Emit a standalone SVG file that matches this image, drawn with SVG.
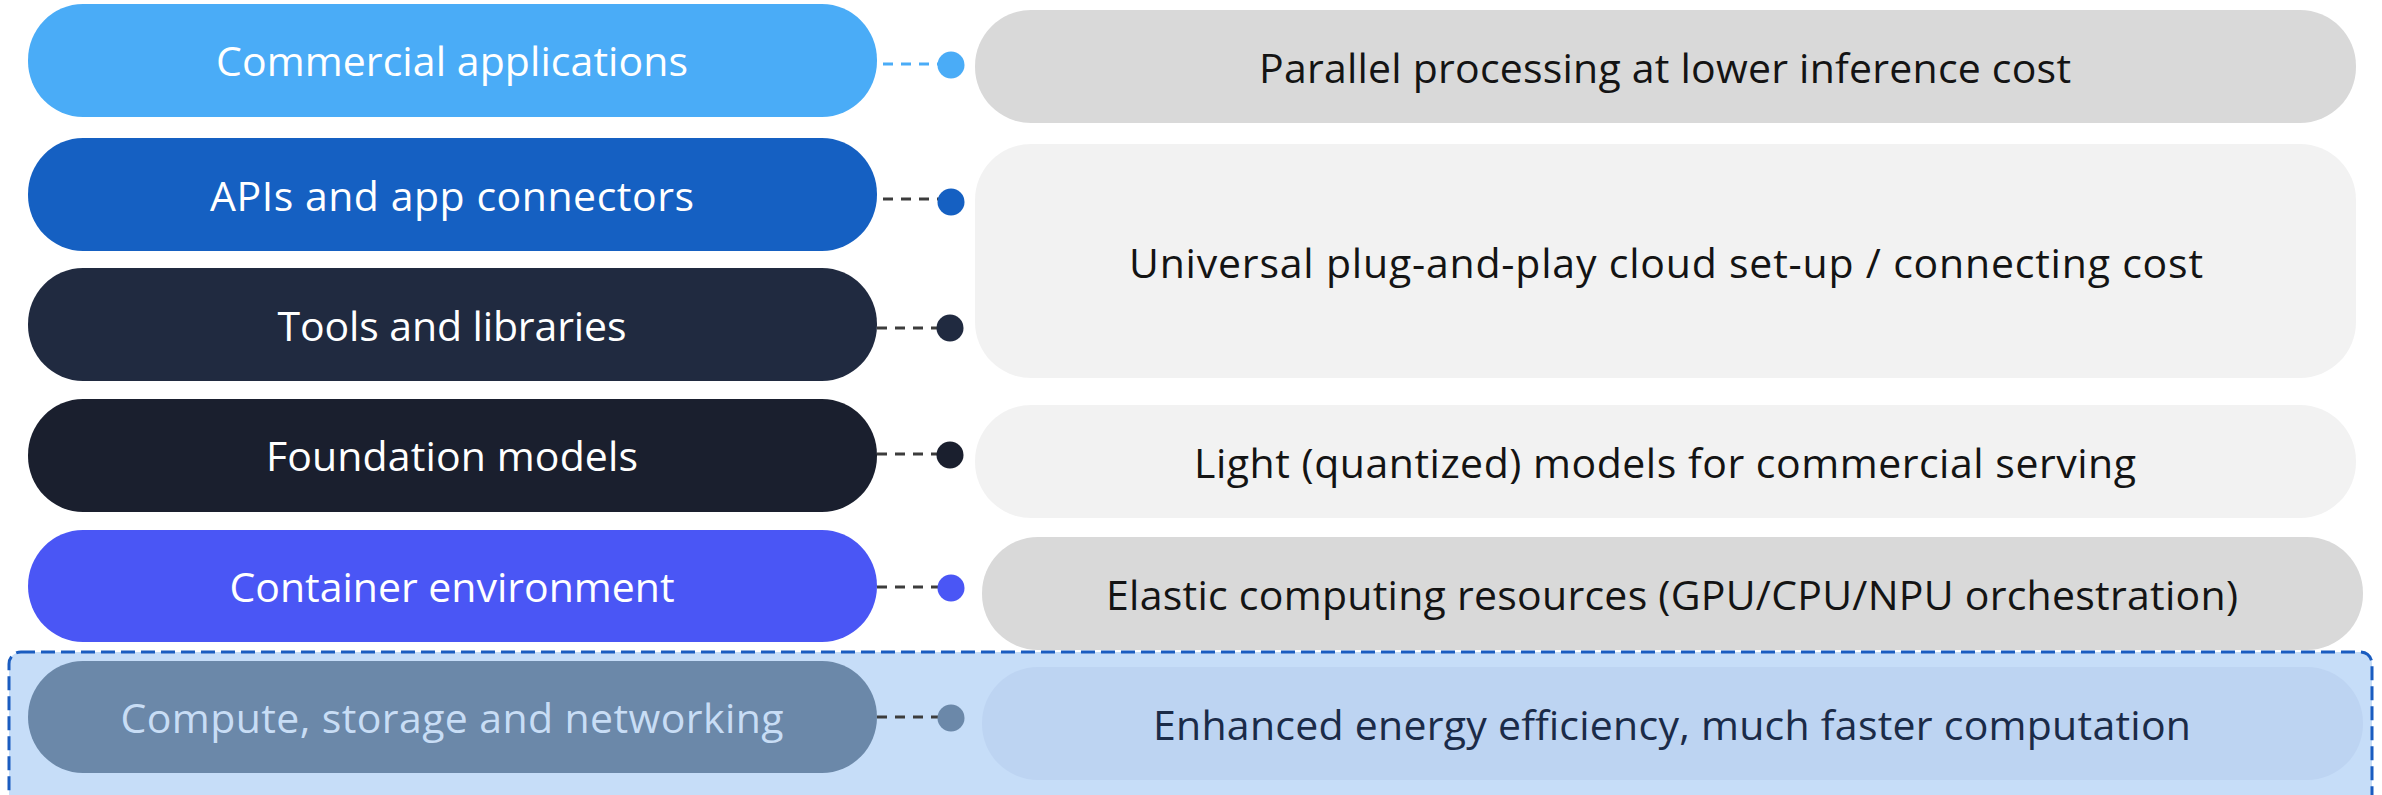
<svg xmlns="http://www.w3.org/2000/svg" width="2382" height="795" viewBox="0 0 2382 795">
  <style>
    .lbl { font-family: "Open Sans", "Noto Sans CJK KR", sans-serif; font-size: 41px; text-anchor: middle; }
    .pill-txt { fill: #FFFFFF; }
    .box-txt { fill: #141414; }
    .link { fill: none; stroke: #3C3C3C; stroke-width: 3; stroke-dasharray: 10 8; }
  </style>

  <!-- highlighted bottom layer band -->
  <g id="hardware-band">
    <rect x="9" y="652" width="2363" height="170" rx="12" ry="12" fill="#C6DDF8" stroke="#1A5CC0" stroke-width="3" stroke-dasharray="14 6"/>
  </g>

  <!-- right-hand benefit boxes -->
  <g id="box-parallel">
    <rect x="975" y="10" width="1381" height="113" rx="56" ry="56" fill="#D9D9D9"/>
    <text class="lbl box-txt" x="1665" y="83" textLength="812">Parallel processing at lower inference cost</text>
  </g>
  <g id="box-plug-and-play">
    <rect x="975" y="144" width="1381" height="234" rx="56" ry="56" fill="#F2F2F2"/>
    <text class="lbl box-txt" x="1666" y="278" textLength="1074">Universal plug-and-play cloud set-up / connecting cost</text>
  </g>
  <g id="box-light-models">
    <rect x="975" y="405" width="1381" height="113" rx="56" ry="56" fill="#F2F2F2"/>
    <text class="lbl box-txt" x="1665" y="478" textLength="942">Light (quantized) models for commercial serving</text>
  </g>
  <g id="box-elastic">
    <rect x="982" y="537" width="1381" height="113" rx="56" ry="56" fill="#D9D9D9"/>
    <text class="lbl box-txt" x="1672" y="610" textLength="1132">Elastic computing resources (GPU/CPU/NPU orchestration)</text>
  </g>
  <g id="box-energy">
    <rect x="982" y="667" width="1381" height="113" rx="56" ry="56" fill="#BDD4F2"/>
    <text class="lbl" fill="#1B2B48" x="1672" y="740" textLength="1038">Enhanced energy efficiency, much faster computation</text>
  </g>

  <!-- left-hand stack layers -->
  <g id="layer-commercial">
    <rect x="28" y="4" width="849" height="113" rx="55" ry="56" fill="#4AACF7"/>
    <text class="lbl pill-txt" x="452" y="76" textLength="472">Commercial applications</text>
  </g>
  <g id="layer-apis">
    <rect x="28" y="138" width="849" height="113" rx="55" ry="56" fill="#1560C2"/>
    <text class="lbl pill-txt" x="452" y="211" textLength="484">APIs and app connectors</text>
  </g>
  <g id="layer-tools">
    <rect x="28" y="268" width="849" height="113" rx="55" ry="56" fill="#202A40"/>
    <text class="lbl pill-txt" x="452" y="341" textLength="349">Tools and libraries</text>
  </g>
  <g id="layer-foundation">
    <rect x="28" y="399" width="849" height="113" rx="55" ry="56" fill="#1A1F2E"/>
    <text class="lbl pill-txt" x="452" y="471" textLength="372">Foundation models</text>
  </g>
  <g id="layer-container">
    <rect x="28" y="530" width="849" height="112" rx="55" ry="56" fill="#4A56F5"/>
    <text class="lbl pill-txt" x="452" y="602" textLength="445">Container environment</text>
  </g>
  <g id="layer-compute">
    <rect x="28" y="661" width="849" height="112" rx="55" ry="56" fill="#6B88A9"/>
    <text class="lbl" fill="#C8DDF5" x="452" y="733" textLength="663">Compute, storage and networking</text>
  </g>

  <!-- dashed leaders with end dots -->
  <g id="connectors">
    <line class="link" x1="883" y1="64" x2="940" y2="64" style="stroke:#4AACF7"/>
    <circle cx="951" cy="65" r="13.5" fill="#4AACF7"/>
    <line class="link" x1="883" y1="199" x2="940" y2="199"/>
    <circle cx="951" cy="202" r="13.5" fill="#1560C2"/>
    <line class="link" x1="877" y1="328" x2="940" y2="328"/>
    <circle cx="950" cy="328" r="13.5" fill="#202A40"/>
    <line class="link" x1="877" y1="454" x2="940" y2="454"/>
    <circle cx="950" cy="455" r="13.5" fill="#1A1F2E"/>
    <line class="link" x1="877" y1="587" x2="940" y2="587"/>
    <circle cx="951" cy="588" r="13.5" fill="#4A56F5"/>
    <line class="link" x1="877" y1="717" x2="940" y2="717"/>
    <circle cx="951" cy="718" r="13.5" fill="#6B88A9"/>
  </g>
</svg>
